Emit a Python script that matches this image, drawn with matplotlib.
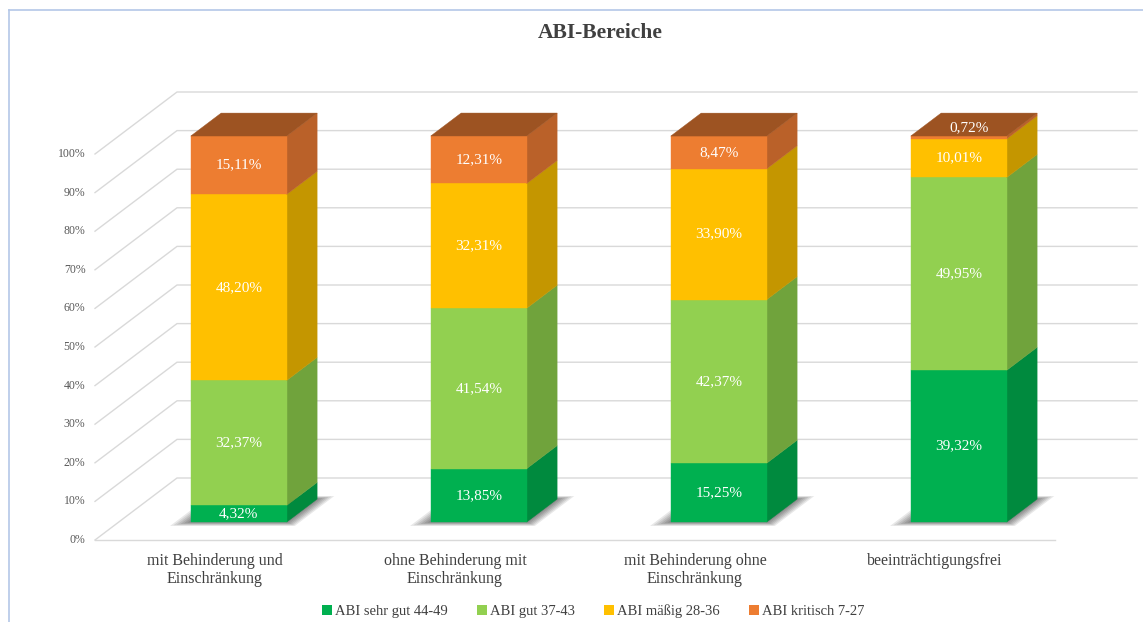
import numpy as np
import matplotlib
matplotlib.use("Agg")
import matplotlib.pyplot as plt
from matplotlib.patches import Polygon, Patch
from matplotlib.lines import Line2D

categories = ["mit Behinderung und\nEinschränkung", "ohne Behinderung mit\nEinschränkung",
              "mit Behinderung ohne\nEinschränkung", "beeinträchtigungsfrei"]
series_names = ["ABI sehr gut 44-49", "ABI gut 37-43", "ABI mäßig 28-36", "ABI kritisch 7-27"]
sehr_gut = [4.32, 13.85, 15.25, 39.32]
gut = [32.37, 41.54, 42.37, 49.95]
maessig = [48.20, 32.31, 33.90, 10.01]
kritisch = [15.11, 12.31, 8.47, 0.72]
yticks = [0, 10, 20, 30, 40, 50, 60, 70, 80, 90, 100]

front_cols = ["#00B050", "#92D050", "#FFC000", "#ED7D31"]
side_cols = ["#008A3E", "#70A33C", "#C49600", "#BA6129"]
top_cols = ["#006F32", "#5C8A30", "#A37C00", "#9D5322"]

serif = ["Liberation Serif", "DejaVu Serif"]
plt.rcParams['font.family'] = serif

W, H = 1143, 622
fig = plt.figure(figsize=(W / 100, H / 100), dpi=100)
ax = fig.add_axes([0, 0, 1, 1])
ax.axis('off')

# pixel scales for the fake 3d projection
px_cat = 240.0   # px per category
px_pct = 3.86    # px per percent
x0_px = 215.0    # category 0 at depth 0
y0_px = 82.0     # 0% at depth 0, measured from bottom
ax.set_xlim(-x0_px / px_cat, (W - x0_px) / px_cat)
ax.set_ylim(-y0_px / px_pct, (H - y0_px) / px_pct)

dzx = 82.0 / px_cat   # depth offset (category units)
dzy = 62.0 / px_pct   # depth offset (percent units)


def proj(c, v, z):
    return (c + z * dzx, v + z * dzy)


grid_c = "#D9D9D9"
left, right = -0.5, len(categories) - 0.5
# back wall + left wall gridlines
for t in yticks:
    a = proj(left, t, 0)
    b = proj(left, t, 1)
    d = proj(right, t, 1)
    ax.plot([a[0], b[0], d[0]], [a[1], b[1], d[1]], color=grid_c, lw=1.0, zorder=1)
    ax.text(a[0] - 0.04, a[1], f"{t}%", ha='right', va='center', fontsize=8.5,
            color="#595959")
# floor front edge
a = proj(left, 0, 0)
b = proj(right, 0, 0)
ax.plot([a[0], b[0]], [a[1], b[1]], color=grid_c, lw=1.0, zorder=1)

hw = 0.2
zf, zb = 0.29, 0.66
data = np.array([sehr_gut, gut, maessig, kritisch])

for i in range(len(categories)):
    c = i
    # soft shadow under the bar
    foot = np.array([proj(c - hw, 0, zf), proj(c + hw, 0, zf),
                     proj(c + hw, 0, zb), proj(c - hw, 0, zb)])
    cen = foot.mean(axis=0) + np.array([0.025, 0.4])
    for k in range(7):
        s = 1.0 + 0.05 * k
        ax.add_patch(Polygon(cen + (foot - cen) * s,
                             closed=True, facecolor='black', edgecolor='none',
                             alpha=0.09, zorder=2))
    bottom = 0.0
    for j in range(data.shape[0]):
        v = data[j, i]
        top = bottom + v
        front = [proj(c - hw, bottom, zf), proj(c + hw, bottom, zf),
                 proj(c + hw, top, zf), proj(c - hw, top, zf)]
        side = [proj(c + hw, bottom, zf), proj(c + hw, bottom, zb),
                proj(c + hw, top, zb), proj(c + hw, top, zf)]
        ax.add_patch(Polygon(side, closed=True, facecolor=side_cols[j],
                             edgecolor=side_cols[j], lw=0.3, zorder=3))
        ax.add_patch(Polygon(front, closed=True, facecolor=front_cols[j],
                             edgecolor=front_cols[j], lw=0.3, zorder=3))
        if j == data.shape[0] - 1:
            lid = [proj(c - hw, top, zf), proj(c + hw, top, zf),
                   proj(c + hw, top, zb), proj(c - hw, top, zb)]
            ax.add_patch(Polygon(lid, closed=True, facecolor=top_cols[j],
                                 edgecolor=top_cols[j], lw=0.3, zorder=3))
        lab = f"{v:.2f}%".replace(".", ",")
        if v < 2:
            lx, ly = proj(c, top, 0.42)
        else:
            lx, ly = proj(c, bottom + v / 2, zf)
        ax.text(lx, ly, lab, ha='center', va='center', fontsize=11,
                color='white', zorder=5)
        bottom = top

    # category label on the front plane
    ax.text(c, -3.3, categories[i], ha='center', va='top', fontsize=11.5,
            color="#404040", linespacing=1.15)

fig.text(600, H - 33, "ABI-Bereiche", transform=None, ha='center', va='center',
         fontsize=15.5, fontweight='bold', color="#404040")

handles = [Patch(facecolor=front_cols[j], edgecolor='none', label=series_names[j])
           for j in range(len(series_names))]
fig.legend(handles=handles, loc='center', bbox_to_anchor=(593 / W, 1 - 611 / H), ncol=4,
           frameon=False, fontsize=10.5, handlelength=0.7, handleheight=0.7,
           handletextpad=0.2, columnspacing=2.0, labelcolor="#404040")

# light frame on top and left
fig.add_artist(Line2D([9 / W, 9 / W], [0, 1 - 10 / H], color="#B4C7E7", lw=1.2))
fig.add_artist(Line2D([9 / W, 1], [1 - 10 / H, 1 - 10 / H], color="#B4C7E7", lw=1.2))

plt.savefig("out.png", dpi=100)
plt.close()
